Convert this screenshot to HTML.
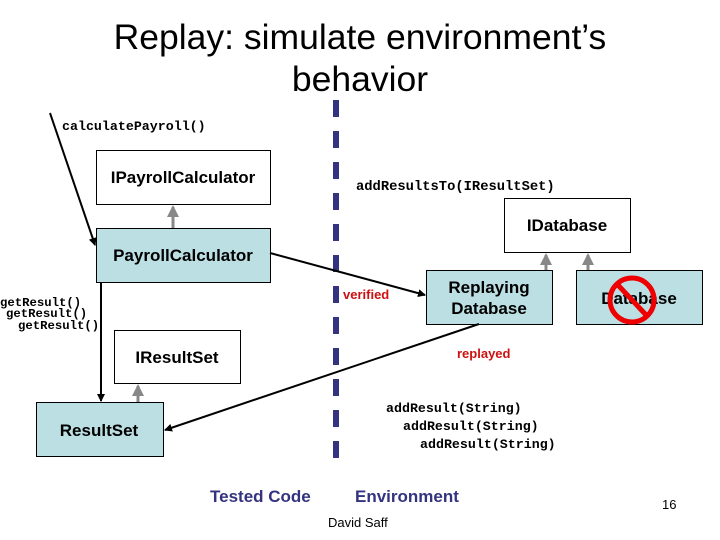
<!DOCTYPE html>
<html><head><meta charset="utf-8"><style>
body{margin:0;background:#fff}
</style></head><body>
<svg width="720" height="540" xmlns="http://www.w3.org/2000/svg" style="display:block">
<defs>
<marker id="ab" markerWidth="8" markerHeight="8" refX="7" refY="4" orient="auto" markerUnits="userSpaceOnUse"><path d="M0,0 L8,4 L0,8 z" fill="#000"/></marker>
<marker id="ag" markerWidth="12" markerHeight="12" refX="10" refY="6" orient="auto" markerUnits="userSpaceOnUse"><path d="M0,0 L12,6 L0,12 z" fill="#888"/></marker>
</defs>
<g font-family="Liberation Sans, sans-serif">
<text x="360" y="49" font-size="35.5" text-anchor="middle">Replay: simulate environment’s</text>
<text x="360" y="91" font-size="35.5" text-anchor="middle">behavior</text>
</g>
<line x1="336" y1="100" x2="336" y2="467" stroke="#333380" stroke-width="6" stroke-dasharray="17,14"/>
<rect x="96.5" y="150.5" width="174" height="54" fill="#fff" stroke="#000"/>
<rect x="96.5" y="228.5" width="174" height="54" fill="#bcdfe3" stroke="#000"/>
<rect x="114.5" y="330.5" width="126" height="53" fill="#fff" stroke="#000"/>
<rect x="36.5" y="402.5" width="127" height="54" fill="#bcdfe3" stroke="#000"/>
<rect x="504.5" y="198.5" width="126" height="54" fill="#fff" stroke="#000"/>
<rect x="426.5" y="270.5" width="126" height="54" fill="#bcdfe3" stroke="#000"/>
<rect x="576.5" y="270.5" width="126" height="54" fill="#bcdfe3" stroke="#000"/>
<g stroke="#888" stroke-width="3">
<line x1="173" y1="228" x2="173" y2="207" marker-end="url(#ag)"/>
<line x1="138" y1="402" x2="138" y2="386" marker-end="url(#ag)"/>
<line x1="546" y1="270" x2="546" y2="255" marker-end="url(#ag)"/>
<line x1="588" y1="270" x2="588" y2="255" marker-end="url(#ag)"/>
</g>
<g stroke="#000" stroke-width="2" fill="none">
<line x1="50" y1="113" x2="95" y2="245" marker-end="url(#ab)"/>
<line x1="101" y1="283" x2="101" y2="401" marker-end="url(#ab)"/>
<line x1="270" y1="253" x2="425" y2="295" marker-end="url(#ab)"/>
<line x1="479" y1="324" x2="165" y2="430" marker-end="url(#ab)"/>
</g>
<g font-family="Liberation Sans, sans-serif" font-weight="bold" font-size="17" text-anchor="middle">
<text x="183" y="183">IPayrollCalculator</text>
<text x="183" y="261">PayrollCalculator</text>
<text x="177" y="363">IResultSet</text>
<text x="99" y="436">ResultSet</text>
<text x="567" y="231">IDatabase</text>
<text x="489" y="293">Replaying</text>
<text x="489" y="314">Database</text>
<text x="639" y="304">Database</text>
</g>
<circle cx="632" cy="300" r="22" fill="none" stroke="#e00" stroke-width="5"/>
<line x1="617" y1="284" x2="647" y2="316" stroke="#e00" stroke-width="5"/>
<g font-family="Liberation Mono, monospace" font-weight="bold" font-size="13.3">
<text x="62" y="130">calculatePayroll()</text>
<text x="356" y="190" font-size="13.8">addResultsTo(IResultSet)</text>
<text x="386" y="412">addResult(String)</text>
<text x="403" y="430">addResult(String)</text>
<text x="420" y="448">addResult(String)</text>
</g>
<g font-family="Liberation Mono, monospace" font-weight="bold" font-size="12.3">
<text x="0" y="306">getResult()</text>
<text x="6" y="317">getResult()</text>
<text x="18" y="329">getResult()</text>
</g>
<g font-family="Liberation Sans, sans-serif" font-weight="bold" font-size="13" fill="#cc1111">
<text x="343" y="299">verified</text>
<text x="457" y="358">replayed</text>
</g>
<g font-family="Liberation Sans, sans-serif" font-weight="bold" font-size="17" fill="#333380">
<text x="210" y="502">Tested Code</text>
<text x="355" y="502">Environment</text>
</g>
<text x="328" y="527" font-family="Liberation Sans, sans-serif" font-size="13">David Saff</text>
<text x="662" y="509" font-family="Liberation Sans, sans-serif" font-size="13">16</text>
</svg>
</body></html>
